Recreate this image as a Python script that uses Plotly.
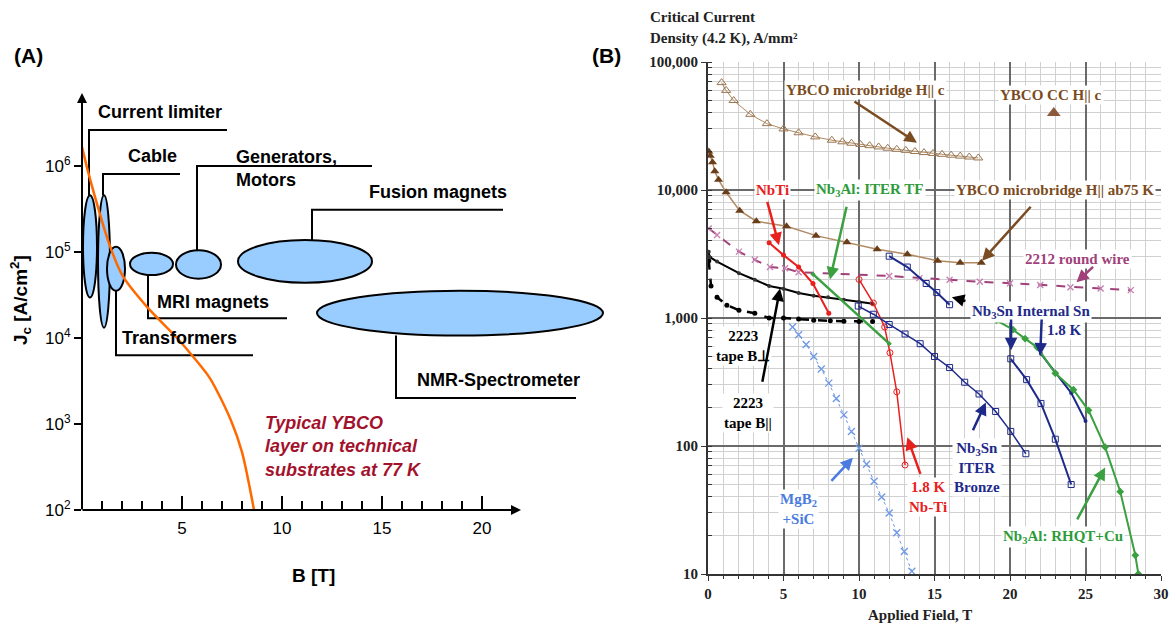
import math
import plotly.graph_objects as go

W, H = 1176, 627

# ---------------- Panel (A) data ----------------
ybco77_B = [0.0, 0.4, 1.4, 2.05, 3.25, 4.75, 5.6, 6.4, 7.45, 8.0, 8.6]
ybco77_Jc = [1.66e6, 7.1e5, 1.17e5, 5.2e4, 2.3e4, 1.0e4, 5.9e3, 3.4e3, 1.1e3, 4.7e2, 1.0e2]

app_names = ["Current limiter", "Cable", "Transformers", "MRI magnets",
             "Generators,<br>Motors", "Fusion magnets", "NMR-Spectrometer"]
app_Bmin = [0.05, 0.8, 1.25, 2.4, 4.7, 7.8, 11.75]
app_Bmax = [0.75, 1.4, 2.15, 4.55, 6.95, 14.5, 26.05]
app_Jmin = [2.95e4, 1.32e4, 3.55e4, 5.4e4, 4.9e4, 4.4e4, 1.07e4]
app_Jmax = [4.57e5, 4.57e5, 1.15e5, 9.8e4, 1.05e5, 1.38e5, 3.55e4]
# leader lines (B, Jc) for each application
lead_B = [[0.35, 0.35, 7.25], [1.05, 1.05, 4.9], [1.7, 1.7, 8.55], [3.3, 3.3, 10.25],
          [5.75, 5.75, 14.5], [11.5, 11.5, 21.05], [15.7, 15.7, 24.7]]
lead_Jc = [[4.57e5, 2.63e6, 2.63e6], [4.57e5, 8.1e5, 8.1e5], [3.55e4, 6.3e3, 6.3e3],
           [5.4e4, 1.7e4, 1.7e4], [1.05e5, 1.0e6, 1.0e6], [1.38e5, 3.1e5, 3.1e5],
           [1.07e4, 2.0e3, 2.0e3]]
label_B = [0.7, 2.2, 1.9, 3.65, 7.6, 14.25, 16.65]
label_Jc = [4.2e6, 1.32e6, 1.0e4, 2.63e4, 9.3e5, 5.0e5, 3.24e3]

# ---------------- Panel (B) data ----------------
ybco_c_B = [0.9, 1.2, 1.7, 2.8, 3.9, 5.0, 6.0, 7.1, 8.2, 8.9, 9.5, 10.1, 10.7, 11.3, 11.9,
            12.5, 13.1, 13.7, 14.3, 14.9, 15.5, 16.1, 16.7, 17.3, 17.9]
ybco_c_Jc = [69000, 60000, 50000, 39000, 33000, 30000, 28000, 26000, 24500, 23800, 23200,
             22700, 22200, 21700, 21200, 20800, 20400, 20000, 19600, 19300, 19000, 18700,
             18400, 18100, 17800]
ybco_ab_B = [0.05, 0.15, 0.3, 0.45, 0.7, 1.2, 2.1, 3.2, 5.2, 7.15, 9.2, 11.2, 13.2, 15.2, 16.7, 18.1]
ybco_ab_Jc = [20000, 18500, 16500, 14000, 12000, 9600, 6900, 5700, 5200, 4400, 3900, 3450,
              3150, 2800, 2700, 2700]
ybco_cc_B = [22.9]
ybco_cc_Jc = [40000]
bscco2212_B = [0.05, 0.6, 2.05, 3.1, 4.1, 5.1, 6.0, 12.0, 14.0, 16.0, 18.0, 20.0, 22.0, 24.0, 26.0, 28.0]
bscco2212_Jc = [5000, 4450, 3300, 2850, 2500, 2450, 2280, 2130, 2050, 1990, 1920, 1870, 1810,
                1740, 1700, 1650]
nbti42_B = [4.05, 5.0, 6.0, 6.95, 8.0]
nbti42_Jc = [3870, 3100, 2500, 1860, 1090]
nbti18_B = [10.0, 10.95, 11.7, 12.05, 12.5, 13.05]
nbti18_Jc = [2000, 1310, 850, 535, 265, 71]
nb3al_iter_B = [6.95, 12.0]
nb3al_iter_Jc = [2200, 630]
nb3sn_bronze_B = [9.95, 10.95, 12.0, 13.05, 14.05, 15.0, 16.0, 17.0, 17.95, 19.05, 20.05, 21.05]
nb3sn_bronze_Jc = [1240, 1070, 890, 750, 630, 500, 410, 315, 255, 186, 130, 87]
nb3sn_int_B = [12.0, 13.2, 14.45, 15.15, 16.0]
nb3sn_int_Jc = [3040, 2500, 1860, 1580, 1270]
nb3sn_int_hi_B = [20.05, 21.1, 22.05, 23.0, 24.05]
nb3sn_int_hi_Jc = [480, 330, 215, 113, 50]
nb3sn_18_B = [22.05, 23.05, 24.05, 25.0]
nb3sn_18_Jc = [525, 370, 260, 157]
nb3al_rhqt_B = [19.1, 20.2, 21.0, 21.8, 23.0, 24.2, 25.2, 26.3, 27.3, 28.3, 28.5]
nb3al_rhqt_Jc = [960, 810, 690, 590, 370, 275, 190, 98, 44, 14, 10]
bi2223_par_B = [0.05, 0.1, 0.6, 2.05, 3.1, 4.05, 5.0, 6.0, 7.0, 7.95, 9.0, 10.0, 10.9]
bi2223_par_Jc = [3300, 3000, 2760, 2240, 1990, 1780, 1690, 1570, 1490, 1450, 1390, 1340, 1290]
bi2223_perp_B = [0.05, 0.2, 0.6, 1.25, 2.05, 3.1, 4.05, 5.0, 6.0, 7.0, 8.1, 9.0, 10.0, 10.9]
bi2223_perp_Jc = [2800, 1780, 1450, 1260, 1150, 1090, 1000, 1000, 980, 960, 950, 945, 940, 940]
mgb2_B = [5.6, 6.0, 6.5, 7.0, 7.5, 8.0, 8.5, 9.0, 9.5, 10.0, 10.5, 11.0, 11.5, 12.0, 12.5, 13.0, 13.5]
mgb2_Jc = [850, 740, 620, 500, 400, 310, 235, 175, 130, 96, 72, 53, 40, 30, 21, 15, 10.5]

yB_ticks = [10, 100, 1000, 10000, 100000]
yB_text = ["10", "100", "1,000", "10,000", "100,000"]
yA_ticks = [1e2, 1e3, 1e4, 1e5, 1e6]
yA_text = ["10<sup>2</sup>", "10<sup>3</sup>", "10<sup>4</sup>", "10<sup>5</sup>", "10<sup>6</sup>"]


def px(x):
    return x / W


def py(y):
    return 1 - y / H


SANS = "Liberation Sans"
SERIF = "Liberation Serif"
BROWN = "#7B4B22"
TAN = "#B08A62"
RED = "#E8201E"
GREEN = "#2E9B3A"
NAVY = "#1E2A8A"
PURPLE = "#A0417A"
MGBLUE = "#6F98E6"

fig = go.Figure()

# ---------- Panel A ----------
for i in range(len(app_names)):
    fig.add_shape(type="circle", xref="x", yref="y",
                  x0=app_Bmin[i], x1=app_Bmax[i], y0=app_Jmin[i], y1=app_Jmax[i],
                  fillcolor="#99CCFF", line=dict(color="black", width=2), layer="below")
    fig.add_trace(go.Scatter(x=lead_B[i], y=lead_Jc[i], mode="lines", xaxis="x", yaxis="y",
                             line=dict(color="black", width=2), hoverinfo="skip",
                             showlegend=False))
    fig.add_annotation(x=label_B[i], y=math.log10(label_Jc[i]), xref="x", yref="y",
                       text=app_names[i], showarrow=False, xanchor="left", align="left",
                       yanchor="middle",
                       font=dict(family=SANS, size=18, color="black", weight="bold"))

fig.add_trace(go.Scatter(x=ybco77_B, y=ybco77_Jc, mode="lines", xaxis="x", yaxis="y",
                         line=dict(color="#FF6A00", width=2.5, shape="spline", smoothing=0.8),
                         hoverinfo="skip", showlegend=False))

fig.add_annotation(x=9.05, y=math.log10(550), xref="x", yref="y",
                   text="Typical YBCO<br>layer on technical<br>substrates at 77 K",
                   showarrow=False, xanchor="left", align="left", yanchor="middle",
                   font=dict(family=SANS, size=18, color="#A3122D", weight="bold", style="italic"))

# axis arrows
fig.add_annotation(x=px(521), y=py(510), xref="paper", yref="paper", ax=-440, ay=0,
                   text="", showarrow=True, arrowhead=2, arrowsize=1, arrowwidth=2,
                   arrowcolor="black")
fig.add_annotation(x=px(82), y=py(93), xref="paper", yref="paper", ax=0, ay=418,
                   text="", showarrow=True, arrowhead=2, arrowsize=1, arrowwidth=2,
                   arrowcolor="black")


def paper_text(x, y, text, font, xanchor="center", angle=0):
    fig.add_annotation(x=px(x), y=py(y), xref="paper", yref="paper", text=text,
                       showarrow=False, xanchor=xanchor, yanchor="middle", textangle=angle,
                       font=font)


paper_text(20, 300, "J<sub>c</sub> [A/cm<sup>2</sup>]",
           dict(family=SANS, size=19, color="black", weight="bold"), angle=-90)
paper_text(313, 575, "B [T]", dict(family=SANS, size=19, color="black", weight="bold"))
paper_text(28, 55, "(A)", dict(family=SANS, size=21, color="black", weight="bold"))
paper_text(606, 55, "(B)", dict(family=SANS, size=21, color="black", weight="bold"))

# ---------- Panel B ----------
def add_b(x, y, name, line, marker, mode="lines+markers"):
    fig.add_trace(go.Scatter(x=x, y=y, mode=mode, xaxis="x2", yaxis="y2", name=name,
                             line=line, marker=marker, hoverinfo="skip", showlegend=False))


add_b(mgb2_B, mgb2_Jc, "MgB2", dict(color=MGBLUE, width=1, dash="dot"),
      dict(symbol="x-thin", size=7, line=dict(color=MGBLUE, width=1.3)))
add_b(bi2223_perp_B, bi2223_perp_Jc, "2223 perp", dict(color="black", width=2.5, dash="dash"),
      dict(symbol="circle", size=5, color="black"))
add_b(bi2223_par_B, bi2223_par_Jc, "2223 par", dict(color="black", width=2),
      dict(symbol="circle", size=4, color="#333"))
add_b(bscco2212_B, bscco2212_Jc, "2212", dict(color=PURPLE, width=2, dash="dash"),
      dict(symbol="x-thin", size=6, line=dict(color="#C77DB0", width=1.3)))
add_b(ybco_c_B, ybco_c_Jc, "YBCO c", dict(color=TAN, width=1),
      dict(symbol="triangle-up-open", size=8, color="#9A7550"))
add_b(ybco_ab_B, ybco_ab_Jc, "YBCO ab", dict(color=TAN, width=1.5),
      dict(symbol="triangle-up", size=8, color="#6B3E1A"))
add_b(ybco_cc_B, ybco_cc_Jc, "YBCO CC", dict(color=BROWN, width=1),
      dict(symbol="triangle-up", size=12, color="#8B5A3C"), mode="markers")
add_b(nbti42_B, nbti42_Jc, "NbTi", dict(color=RED, width=2),
      dict(symbol="circle", size=5, color=RED))
add_b(nbti18_B, nbti18_Jc, "NbTi 1.8", dict(color=RED, width=1.5),
      dict(symbol="circle-open", size=6, color=RED))
add_b(nb3al_iter_B, nb3al_iter_Jc, "Nb3Al ITER", dict(color="#3AA040", width=2.5),
      dict(symbol="diamond", size=4, color="#3AA040"))
add_b(nb3sn_bronze_B, nb3sn_bronze_Jc, "Bronze", dict(color=NAVY, width=1.5),
      dict(symbol="square-open", size=6, color=NAVY))
add_b(nb3sn_int_B, nb3sn_int_Jc, "Int Sn", dict(color=NAVY, width=2),
      dict(symbol="square-open", size=6, color=NAVY))
add_b(nb3sn_int_hi_B, nb3sn_int_hi_Jc, "Int Sn hi", dict(color=NAVY, width=2),
      dict(symbol="square-open", size=6, color=NAVY))
add_b(nb3sn_18_B, nb3sn_18_Jc, "Nb3Sn 1.8", dict(color=NAVY, width=2),
      dict(symbol="circle", size=4, color=NAVY))
add_b(nb3al_rhqt_B, nb3al_rhqt_Jc, "RHQT", dict(color="#3AA040", width=2),
      dict(symbol="diamond", size=6, color="#3AA040"))

# labels (B, Jc, text, color)
lab_B = [10.4, 22.7, 4.24, 10.7, 23.0, 24.5, 21.4, 23.6, 17.8, 14.6, 5.96, 23.5, 2.3, 2.65]
lab_Jc = [60000, 55000, 10000, 10000, 10000, 2900, 1120, 810, 68, 40, 32, 19.5, 600, 182]
lab_text = ["YBCO microbridge H|| c", "YBCO CC H|| c", "NbTi", "Nb<sub>3</sub>Al: ITER TF",
            "YBCO microbridge H|| ab75 K", "2212 round wire", "Nb<sub>3</sub>Sn Internal Sn",
            "1.8 K", "Nb<sub>3</sub>Sn<br>ITER<br>Bronze", "1.8 K<br>Nb-Ti",
            "MgB<sub>2</sub><br>+SiC", "Nb<sub>3</sub>Al: RHQT+Cu", "2223<br>tape B⊥",
            "2223<br>tape B||"]
lab_col = [BROWN, BROWN, RED, GREEN, BROWN, PURPLE, NAVY, NAVY, NAVY, RED, "#4B7BE0", GREEN,
           "black", "black"]
for bx, jc, t, c in zip(lab_B, lab_Jc, lab_text, lab_col):
    fig.add_annotation(x=bx, y=math.log10(jc), xref="x2", yref="y2", text=t, showarrow=False,
                       bgcolor="white", borderpad=1, xanchor="center", yanchor="middle",
                       font=dict(family=SERIF, size=15, color=c, weight="bold"))

# arrows: tail (B, Jc) -> head (B, Jc)
arr_tail_B = [9.6, 3.9, 9.2, 21.46, 25.6, 17.15, 20.07, 22.1, 17.5, 14.1, 8.08, 24.4, 3.58]
arr_tail_Jc = [50000, 8300, 7600, 7600, 2570, 1350, 1000, 1000, 129, 59, 52, 26, 309]
arr_head_B = [13.84, 4.7, 8.08, 18.15, 24.4, 16.15, 20.07, 22.0, 18.4, 13.2, 9.6, 26.3, 4.77]
arr_head_Jc = [23400, 3700, 2000, 2800, 1900, 1450, 560, 510, 219, 117, 81, 68, 1700]
arr_col = [BROWN, RED, "#3AA040", BROWN, PURPLE, "black", NAVY, NAVY, NAVY, RED, "#4B7BE0",
           "#3AA040", "black"]
for tb, tj, hb, hj, c in zip(arr_tail_B, arr_tail_Jc, arr_head_B, arr_head_Jc, arr_col):
    fig.add_annotation(x=hb, y=math.log10(hj), ax=tb, ay=math.log10(tj), xref="x2", yref="y2",
                       axref="x2", ayref="y2", text="", showarrow=True, arrowhead=2,
                       arrowsize=1, arrowwidth=2.5, arrowcolor=c)

paper_text(648, 17, "Critical Current",
           dict(family=SERIF, size=15, color="#222", weight="bold"), xanchor="left")
paper_text(648, 39, "Density (4.2 K), A/mm²",
           dict(family=SERIF, size=15, color="#222", weight="bold"), xanchor="left")
paper_text(920, 615, "Applied Field, T",
           dict(family=SERIF, size=15, color="#222", weight="bold"))

fig.update_layout(
    width=W, height=H, margin=dict(l=0, r=0, t=0, b=0, autoexpand=False),
    paper_bgcolor="white", plot_bgcolor="white", showlegend=False,
    xaxis=dict(domain=[px(82), px(610)], range=[0, 26.4], anchor="y", showgrid=False,
               automargin=False,
               zeroline=False, showline=False, tickmode="array", tickvals=[5, 10, 15, 20],
               ticks="inside", ticklen=14, tickwidth=1.5, tickcolor="black",
               ticklabelstandoff=6,
               tickfont=dict(family=SANS, size=17, color="black"),
               minor=dict(tickmode="array",
                          tickvals=[1, 2, 3, 4, 6, 7, 8, 9, 11, 12, 13, 14, 16, 17, 18, 19],
                          ticks="inside", ticklen=9, tickwidth=1.5, tickcolor="black")),
    yaxis=dict(domain=[py(510), py(95)], type="log", range=[2, 6.826], anchor="x",
               automargin=False,
               showgrid=False, zeroline=False, showline=False, tickmode="array",
               tickvals=yA_ticks, ticktext=yA_text, ticks="outside", ticklen=7,
               tickwidth=1.5, tickcolor="black", ticklabelstandoff=0,
               tickfont=dict(family=SANS, size=17, color="black")),
    xaxis2=dict(domain=[px(708), px(1161)], range=[0, 30], anchor="y2", dtick=5,
                automargin=False,
                showgrid=True, gridcolor="#6a6a6a", gridwidth=1.5, zeroline=False,
                showline=True, linecolor="#333", linewidth=2, ticks="outside", ticklen=5,
                tickcolor="#333", tickfont=dict(family=SERIF, size=15, color="#222", weight="bold"),
                minor=dict(dtick=1, showgrid=True, gridcolor="#d0d0d0", gridwidth=1,
                           ticks="outside", ticklen=3, tickcolor="#333")),
    yaxis2=dict(domain=[py(574), py(62)], type="log", range=[1, 5], anchor="x2",
                automargin=False,
                tickmode="array", tickvals=yB_ticks, ticktext=yB_text,
                showgrid=True, gridcolor="#6a6a6a", gridwidth=1.5, zeroline=False,
                showline=True, linecolor="#333", linewidth=2, ticks="outside", ticklen=5,
                tickcolor="#333", tickfont=dict(family=SERIF, size=15, color="#222", weight="bold"),
                minor=dict(dtick="D1", showgrid=True, gridcolor="#d0d0d0", gridwidth=1,
                           ticks="inside", ticklen=4, tickcolor="#333")),
)

fig.write_html("out.html", config={"displayModeBar": False},
               post_script="document.body.style.margin='0px';")
